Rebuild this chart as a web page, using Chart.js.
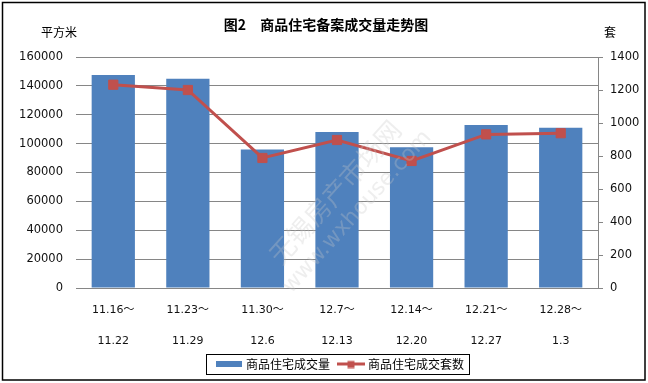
<!DOCTYPE html>
<html><head><meta charset="utf-8">
<script src="https://cdn.jsdelivr.net/npm/chart.js@4.4.0/dist/chart.umd.min.js"></script>
<style>html,body{margin:0;padding:0;background:#fff;}canvas{display:block;}</style>
</head><body>
<div style="width:648px;height:383px;position:relative"><canvas id="c" width="648" height="383"></canvas></div>
<script>
const categories = [["11.16～","11.22"],["11.23～","11.29"],["11.30～","12.6"],["12.7～","12.13"],["12.14～","12.20"],["12.21～","12.27"],["12.28～","1.3"]];
const areaValues = [147500, 145000, 96000, 108000, 97500, 112900, 111000];
const unitValues = [1232, 1200, 788, 897, 770, 931, 938];
const leftTicks = [0, 20000, 40000, 60000, 80000, 100000, 120000, 140000, 160000];
const rightTicks = [0, 200, 400, 600, 800, 1000, 1200, 1400];
const seriesNames = ["商品住宅成交量", "商品住宅成交套数"];
const titleText = "图2　商品住宅备案成交量走势图";
const leftUnit = "平方米";
const rightUnit = "套";

const BLUE = '#4F81BD', RED = '#C0504D', GRID = '#868686';
const CJK = '"Noto Sans CJK SC", sans-serif';
const NUM = '"DejaVu Sans", "Noto Sans CJK SC", sans-serif';

function barIcon(){ const c=document.createElement('canvas'); c.width=28; c.height=8; const x=c.getContext('2d'); x.fillStyle=BLUE; x.fillRect(1,1,26,6); return c; }
function lineIcon(){ const c=document.createElement('canvas'); c.width=28; c.height=9; const x=c.getContext('2d'); x.strokeStyle=RED; x.lineWidth=3; x.beginPath(); x.moveTo(0,4.5); x.lineTo(28,4.5); x.stroke(); x.fillStyle=RED; x.fillRect(10.5,1.5,7,7); return c; }
const icons = [barIcon(), lineIcon()];
const LEGEND_SHIFT = 17;

const decor = {
  id: 'decor',
  afterUpdate(chart) {
    const lg = chart.legend;
    if (lg) {
      lg.left += LEGEND_SHIFT; lg.right += LEGEND_SHIFT;
      (lg.legendHitBoxes || []).forEach(h => { h.left += LEGEND_SHIFT; });
    }
  },
  afterDraw(chart) {
    const ctx = chart.ctx;
    ctx.save();
    // watermark
    ctx.translate(335, 192);
    ctx.rotate(-48 * Math.PI / 180);
    ctx.fillStyle = 'rgba(200,200,200,0.3)';
    ctx.textAlign = 'center'; ctx.textBaseline = 'middle';
    ctx.font = '26px ' + CJK;
    ctx.fillText('无锡房产市场网', 0, 0);
    ctx.font = '22px ' + NUM;
    ctx.fillText('www.wxhouse.com', 0, 30);
    ctx.restore();

    ctx.save();
    ctx.fillStyle = '#000';
    ctx.textAlign = 'center'; ctx.textBaseline = 'middle';
    ctx.font = 'bold 14px ' + CJK;
    ctx.fillText(titleText, 326, 25);
    ctx.font = '12px ' + CJK;
    ctx.fillText(leftUnit, 59, 32);
    ctx.fillText(rightUnit, 610, 32);
    // legend border
    const lg = chart.legend;
    if (lg && lg.legendHitBoxes && lg.legendHitBoxes.length) {
      const hb = lg.legendHitBoxes;
      const l = hb[0].left - 12;
      const r = hb[hb.length-1].left + hb[hb.length-1].width + 5;
      const cy = hb[0].top + 6;
      ctx.strokeStyle = '#000'; ctx.lineWidth = 1;
      ctx.strokeRect(Math.round(l)+0.5, Math.round(cy-10)+0.5, Math.round(r-l), 20);
    }
    // outer border
    ctx.strokeStyle = '#000'; ctx.lineWidth = 1.5;
    ctx.strokeRect(2.5, 2.5, 642.5, 377.5);
    ctx.restore();
  }
};

new Chart(document.getElementById('c'), {
  data: {
    labels: categories,
    datasets: [
      { type: 'line', label: seriesNames[1], data: unitValues, yAxisID: 'y1',
        borderColor: RED, backgroundColor: RED, borderWidth: 3,
        pointStyle: 'rect', pointRadius: 6.5, pointBorderWidth: 1, pointBackgroundColor: RED, pointBorderColor: RED,
        tension: 0, order: 0 },
      { type: 'bar', label: seriesNames[0], data: areaValues, yAxisID: 'y',
        backgroundColor: BLUE, borderWidth: 0, categoryPercentage: 1, barPercentage: 0.58, order: 1 }
    ]
  },
  options: {
    responsive: false, animation: false,
    layout: { padding: { top: 57, left: 0, right: 0, bottom: 3 } },
    plugins: {
      title: { display: false }, tooltip: { enabled: false },
      legend: {
        position: 'bottom',
        labels: {
          usePointStyle: true, pointStyleWidth: 22, padding: 10,
          color: '#000', font: { size: 12, family: CJK },
          generateLabels(chart) {
            const items = Chart.defaults.plugins.legend.labels.generateLabels(chart);
            items.forEach(it => { it.pointStyle = icons[it.datasetIndex === 1 ? 0 : 1]; });
            items.sort((a,b) => (a.datasetIndex === 1 ? 0 : 1) - (b.datasetIndex === 1 ? 0 : 1));
            return items;
          }
        }
      }
    },
    scales: {
      x: {
        offset: true,
        grid: { drawOnChartArea: false, drawTicks: false, color: GRID },
        border: { display: true, color: GRID, width: 1 },
        ticks: { color: '#111', padding: 7, maxRotation: 0, autoSkip: false, font: { size: 11, family: NUM, lineHeight: 31/11 } },
        afterFit(s) { s.height = 60; }
      },
      y: {
        position: 'left', min: 0, max: 160000,
        afterBuildTicks(s) { s.ticks = leftTicks.map(v => ({ value: v })); },
        grid: { color: GRID, drawTicks: false, lineWidth: 1 },
        border: { display: false },
        ticks: { color: '#111', padding: 13, font: { size: 11.5, family: NUM }, callback: v => String(v) },
        afterFit(s) { s.width = 76; }
      },
      y1: {
        position: 'right', min: 0, max: 1400,
        afterBuildTicks(s) { s.ticks = rightTicks.map(v => ({ value: v })); },
        grid: { drawOnChartArea: false, drawTicks: true, tickLength: 5, color: GRID },
        border: { display: true, color: GRID, width: 1 },
        ticks: { color: '#111', padding: 7, font: { size: 11.5, family: NUM }, callback: v => String(v) },
        afterFit(s) { s.width = 50; }
      }
    }
  },
  plugins: [decor]
});
</script>
</body></html>
